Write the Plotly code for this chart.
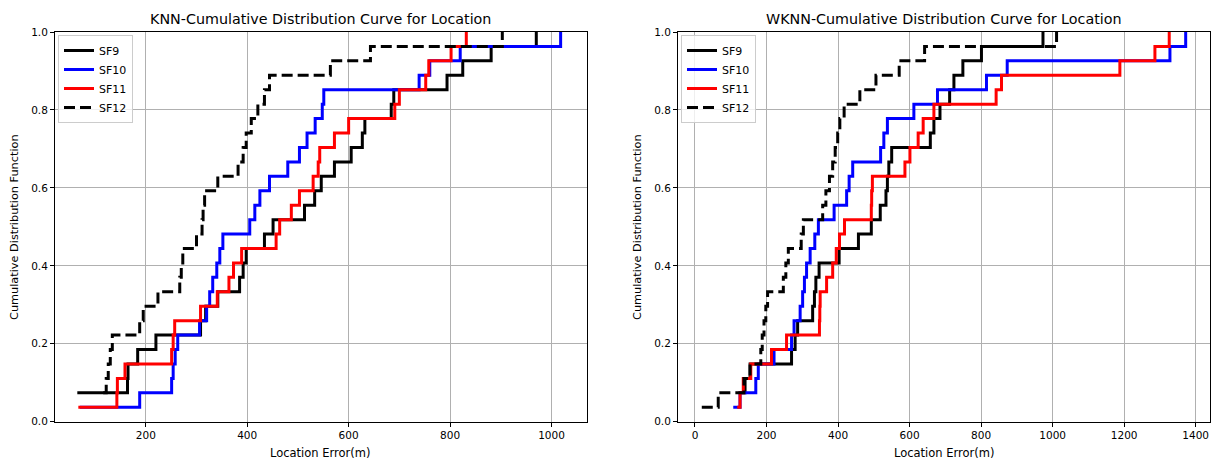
import numpy as np
import plotly.graph_objects as go

N = 27  # samples per series (CDF step = 1/27)
series_names = ["SF9", "SF10", "SF11", "SF12"]

# ---- KNN (left): jump positions (m) and CDF level counts (k/27) ----
knn_sf9_x = [65, 164, 165, 184, 220, 308, 318, 342, 385, 392, 398, 434, 451, 513, 533, 546, 572, 605, 627, 632, 684, 689, 794, 825, 881, 970]
knn_sf9_k = [2, 3, 4, 5, 6, 7, 8, 9, 10, 11, 12, 13, 14, 15, 16, 17, 18, 19, 20, 21, 22, 23, 24, 25, 26, 27]
knn_sf10_x = [70, 188, 251, 254, 258, 263, 306, 320, 326, 332, 340, 346, 352, 405, 415, 425, 444, 480, 503, 518, 534, 548, 551, 739, 760, 820, 1018]
knn_sf10_k = list(range(1, 28))
knn_sf11_x = [67, 143, 144, 159, 251, 254, 257, 308, 341, 364, 373, 389, 457, 464, 487, 503, 530, 540, 543, 572, 600, 691, 700, 752, 758, 802, 832]
knn_sf11_k = list(range(1, 28))
knn_sf12_x = [116, 122, 126, 130, 134, 188, 195, 224, 267, 270, 273, 300, 311, 313, 316, 342, 382, 392, 398, 408, 421, 434, 444, 564, 643, 903]
knn_sf12_k = [2, 3, 4, 5, 6, 7, 8, 9, 10, 11, 12, 13, 14, 15, 16, 17, 18, 19, 20, 21, 22, 23, 24, 25, 26, 27]

# ---- WKNN (right) ----
wknn_sf9_x = [125, 140, 154, 270, 280, 287, 329, 334, 338, 347, 403, 457, 493, 518, 534, 538, 542, 550, 658, 668, 685, 712, 724, 749, 801, 973]
wknn_sf9_k = [2, 3, 4, 5, 6, 7, 8, 9, 10, 11, 12, 13, 14, 15, 16, 17, 18, 19, 20, 21, 22, 23, 24, 25, 26, 27]
wknn_sf10_x = [107, 126, 170, 177, 221, 270, 277, 294, 301, 306, 312, 322, 335, 345, 389, 424, 431, 441, 519, 528, 538, 612, 678, 815, 873, 1328, 1372]
wknn_sf10_k = list(range(1, 28))
wknn_sf11_x = [118, 126, 135, 156, 214, 256, 348, 349, 350, 368, 385, 395, 404, 418, 493, 494, 496, 587, 601, 624, 638, 668, 842, 857, 1188, 1286, 1326]
wknn_sf11_k = list(range(1, 28))
wknn_sf12_x = [19, 65, 137, 154, 184, 188, 193, 198, 203, 247, 254, 261, 297, 303, 357, 366, 376, 385, 392, 399, 405, 417, 461, 506, 571, 642, 1011]
wknn_sf12_k = list(range(1, 28))

y_ticks = [0.0, 0.2, 0.4, 0.6, 0.8, 1.0]
knn_x_ticks = [200, 400, 600, 800, 1000]
wknn_x_ticks = [0, 200, 400, 600, 800, 1000, 1200, 1400]

styles = {
    "SF9": dict(color="#000000", dash="solid"),
    "SF10": dict(color="#0000ff", dash="solid"),
    "SF11": dict(color="#ff0000", dash="solid"),
    "SF12": dict(color="#000000", dash="11px,5px"),
}

W, H = 1214, 461
FONT = "DejaVu Sans"

fig = go.Figure()

panels = [
    ("x", "y", "legend", [(knn_sf9_x, knn_sf9_k), (knn_sf10_x, knn_sf10_k), (knn_sf11_x, knn_sf11_k), (knn_sf12_x, knn_sf12_k)]),
    ("x2", "y2", "legend2", [(wknn_sf9_x, wknn_sf9_k), (wknn_sf10_x, wknn_sf10_k), (wknn_sf11_x, wknn_sf11_k), (wknn_sf12_x, wknn_sf12_k)]),
]
for xa, ya, lg, data in panels:
    for name, (xs, ks) in zip(series_names, data):
        st = styles[name]
        fig.add_trace(go.Scatter(
            x=xs, y=np.array(ks) / N, mode="lines", name=name,
            line=dict(color=st["color"], width=3, dash=st["dash"], shape="hv"),
            xaxis=xa, yaxis=ya, legend=lg, hoverinfo="skip",
        ))

def px_x(p):
    return p / W

def px_y(p):
    return (H - p) / H

axis_common = dict(
    showgrid=True, gridcolor="#b0b0b0", gridwidth=0.8,
    showline=True, linecolor="#000000", linewidth=1, mirror=True,
    ticks="outside", ticklen=4, tickwidth=1, tickcolor="#000000",
    tickfont=dict(family=FONT, size=10.5, color="#000000"),
    zeroline=False, automargin=False,
)

y_dom = [px_y(421.7), px_y(32)]
legend_common = dict(xanchor="left", yanchor="top",
                     bgcolor="rgba(255,255,255,0.8)", bordercolor="#cccccc", borderwidth=1,
                     font=dict(family=FONT, size=11, color="#000000"), itemwidth=30)
fig.update_layout(
    template="none",
    width=W, height=H, autosize=False,
    margin=dict(l=0, r=0, t=0, b=0, pad=0, autoexpand=False),
    paper_bgcolor="white", plot_bgcolor="white",
    font=dict(family=FONT, size=10, color="#000000"),
    xaxis=dict(domain=[px_x(55), px_x(587)], range=[21, 1070], tickvals=knn_x_ticks,
               anchor="y", **axis_common),
    yaxis=dict(domain=y_dom, range=[0, 1], tickvals=y_ticks,
               ticktext=[f"{v:.1f}" for v in y_ticks], anchor="x", **axis_common),
    xaxis2=dict(domain=[px_x(678), px_x(1210)], range=[-47.5, 1440], tickvals=wknn_x_ticks,
                anchor="y2", **axis_common),
    yaxis2=dict(domain=y_dom, range=[0, 1], tickvals=y_ticks,
                ticktext=[f"{v:.1f}" for v in y_ticks], anchor="x2", **axis_common),
    legend=dict(x=px_x(58), y=px_y(35), **legend_common),
    legend2=dict(x=px_x(681), y=px_y(35), **legend_common),
    showlegend=True,
)

annotations = [
    dict(text="KNN-Cumulative Distribution Curve for Location", x=px_x(321), y=px_y(19),
         font=dict(size=14.3)),
    dict(text="WKNN-Cumulative Distribution Curve for Location", x=px_x(944), y=px_y(19),
         font=dict(size=14.3)),
    dict(text="Location Error(m)", x=px_x(321), y=px_y(453), font=dict(size=11.5)),
    dict(text="Location Error(m)", x=px_x(944), y=px_y(453), font=dict(size=11.5)),
    dict(text="Cumulative Distribution Function", x=px_x(14), y=px_y(227), textangle=-90,
         font=dict(size=11.3)),
    dict(text="Cumulative Distribution Function", x=px_x(637), y=px_y(227), textangle=-90,
         font=dict(size=11.3)),
]
for a in annotations:
    a.update(xref="paper", yref="paper", showarrow=False, xanchor="center", yanchor="middle")
    a["font"] = dict(family=FONT, color="#000000", **a["font"])
fig.update_layout(annotations=annotations)

fig.write_html("out.html")
